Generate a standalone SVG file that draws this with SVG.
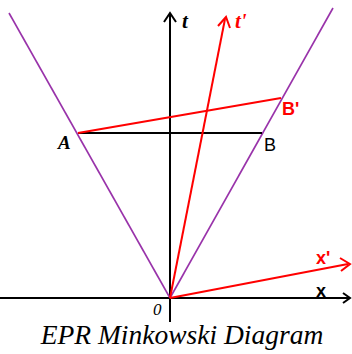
<svg xmlns="http://www.w3.org/2000/svg" width="352" height="354" viewBox="0 0 352 354">
<defs>
<style>
.ax{stroke:#000;stroke-width:2;fill:none}
.cone{stroke:#9933aa;stroke-width:1.6;fill:none}
.red{stroke:#ff0000;stroke-width:2;fill:none}
.lblk{font-family:"Liberation Sans",Arial,sans-serif;font-size:18px;fill:#000}
.lred{font-family:"Liberation Sans",Arial,sans-serif;font-size:18px;fill:#ff0000;font-weight:bold}
.it{font-family:"Liberation Serif","Times New Roman",serif;font-style:italic}
</style>
</defs>
<rect width="352" height="354" fill="#fff"/>
<g id="connectors">
<line class="ax" x1="0" y1="298" x2="349" y2="298"/>
<polyline class="ax" points="343,293 350,298 343,303"/>
<line class="ax" x1="170" y1="322" x2="170" y2="15"/>
<polyline class="ax" points="164,22 170,13 176,22"/>
<line class="cone" x1="170" y1="298" x2="9" y2="13"/>
<line class="cone" x1="170" y1="298" x2="333" y2="8"/>
<line class="ax" x1="78" y1="133" x2="262" y2="133"/>
<line class="red" x1="78" y1="133" x2="281" y2="98"/>
<line class="red" x1="170" y1="298" x2="225" y2="19"/>
<polyline class="red" points="218,26 226,17 230,28"/>
<line class="red" x1="170" y1="298" x2="348" y2="264"/>
<polyline class="red" points="340,258 350,264 341,271"/>
</g>
<g id="labels">
<text class="it" x="182" y="28" font-size="21" font-weight="bold">t</text>
<text class="it" x="235" y="28" font-size="21" font-weight="bold" fill="#ff0000">t'</text>
<text class="it" x="58" y="149" font-size="19" font-weight="bold">A</text>
<text class="lblk" x="264" y="151">B</text>
<text class="lred" x="282" y="115">B'</text>
<text class="lred" x="316" y="264" font-size="20">x'</text>
<text class="lblk" x="316" y="297" font-size="20" font-weight="bold">x</text>
<text class="it" x="153" y="315" font-size="17">0</text>
<text class="it" x="182" y="344" font-size="27.5" text-anchor="middle">EPR Minkowski Diagram</text>
</g>
</svg>
